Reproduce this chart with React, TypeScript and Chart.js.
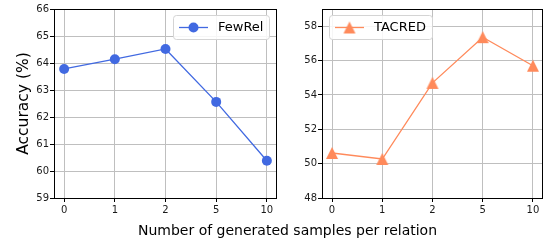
import React, { useEffect, useRef } from "react";
import { Chart, registerables } from "chart.js";

Chart.register(...registerables);

const xLabels = ["0", "1", "2", "5", "10"];
const fewrelAcc = [63.78, 64.14, 64.52, 62.56, 60.38];
const tacredAcc = [50.62, 50.27, 54.7, 57.36, 55.7];
const fewrelTicks = [59, 60, 61, 62, 63, 64, 65, 66];
const tacredTicks = [48, 50, 52, 54, 56, 58];

const BLUE = "#4169e1";
const ORANGE = "#ff8a5b";
const FONT = "'DejaVu Sans', sans-serif";

function makeTriangle(color: string) {
  const c = document.createElement("canvas");
  c.width = 14;
  c.height = 14;
  const g = c.getContext("2d")!;
  g.fillStyle = color;
  g.beginPath();
  g.moveTo(7, 1);
  g.lineTo(1, 13);
  g.lineTo(13, 13);
  g.closePath();
  g.fill();
  return c;
}

const framePlugin = {
  id: "frame",
  afterDatasetsDraw(chart: any) {
    const { ctx, chartArea: a } = chart;
    ctx.save();
    ctx.strokeStyle = "#000";
    ctx.lineWidth = 1;
    ctx.strokeRect(Math.round(a.left) + 0.5, Math.round(a.top) + 0.5, Math.round(a.right - a.left) - 1, Math.round(a.bottom - a.top));
    ctx.restore();
  },
};

const legendPlugin = {
  id: "boxLegend",
  afterDraw(chart: any, _args: any, opts: any) {
    const { ctx, chartArea: a } = chart;
    const ds = chart.data.datasets[0];
    ctx.save();
    ctx.font = `13px ${FONT}`;
    const tw = ctx.measureText(ds.label).width;
    const w = Math.round(6 + 29 + 10 + tw + 6);
    const h = 24;
    const x = opts.align === "right" ? Math.round(a.right - 8 - w) : Math.round(a.left + 7);
    const y = Math.round(a.top + 6);
    ctx.beginPath();
    (ctx as any).roundRect(x + 0.5, y + 0.5, w, h, 3);
    ctx.fillStyle = "rgba(255,255,255,0.85)";
    ctx.fill();
    ctx.strokeStyle = "#d4d4d4";
    ctx.lineWidth = 1;
    ctx.stroke();
    const cy = y + h / 2 + 0.5;
    ctx.strokeStyle = ds.borderColor;
    ctx.lineWidth = 1.3;
    ctx.beginPath();
    ctx.moveTo(x + 6, cy);
    ctx.lineTo(x + 35, cy);
    ctx.stroke();
    const mx = x + 20.5;
    if (opts.marker === "circle") {
      ctx.fillStyle = ds.borderColor;
      ctx.beginPath();
      ctx.arc(mx, cy, 5, 0, Math.PI * 2);
      ctx.fill();
    } else {
      ctx.drawImage(ds.pointStyle, mx - 7, cy - 7);
    }
    ctx.fillStyle = "#000";
    ctx.textBaseline = "middle";
    ctx.fillText(ds.label, x + 45, cy);
    ctx.restore();
  },
};

function makeConfig(
  label: string,
  values: number[],
  color: string,
  pointStyle: any,
  yMin: number,
  yMax: number,
  yTicks: number[],
  yWidth: number,
  padRight: number,
  yTitle: string | null,
  legendAlign: string,
  marker: string
): any {
  return {
    type: "line",
    data: {
      datasets: [
        {
          label,
          data: values.map((v, i) => ({ x: i, y: v })),
          borderColor: color,
          backgroundColor: color,
          borderWidth: 1.3,
          pointStyle,
          pointRadius: 5,
          pointBorderWidth: 0,
          pointBackgroundColor: color,
          tension: 0,
        },
      ],
    },
    options: {
      responsive: false,
      animation: false,
      devicePixelRatio: 1,
      layout: { padding: { left: 0, right: padRight, top: 9, bottom: 0 } },
      plugins: {
        legend: { display: false },
        tooltip: { enabled: false },
        boxLegend: { align: legendAlign, marker },
      },
      scales: {
        x: {
          type: "linear",
          min: -0.2,
          max: 4.2,
          afterBuildTicks: (s: any) => {
            s.ticks = xLabels.map((_, i) => ({ value: i }));
          },
          afterFit: (s: any) => {
            s.height = 48;
          },
          ticks: {
            callback: (v: number) => xLabels[v],
            font: { family: FONT, size: 10 },
            color: "#1a1a1a",
            padding: 2,
            maxRotation: 0,
            autoSkip: false,
          },
          grid: { color: "#bfbfbf", lineWidth: 1, tickColor: "#000", tickLength: 4, tickWidth: 1 },
          border: { display: false },
        },
        y: {
          type: "linear",
          min: yMin,
          max: yMax,
          afterBuildTicks: (s: any) => {
            s.ticks = yTicks.map((v) => ({ value: v }));
          },
          afterFit: (s: any) => {
            s.width = yWidth;
          },
          ticks: {
            font: { family: FONT, size: 10 },
            color: "#1a1a1a",
            padding: 1,
          },
          grid: { color: "#bfbfbf", lineWidth: 1, tickColor: "#000", tickLength: 4, tickWidth: 1 },
          border: { display: false },
          title: yTitle
            ? {
                display: true,
                text: yTitle,
                font: { family: FONT, size: 15.5 },
                color: "#000",
                padding: { top: 15, bottom: 0 },
              }
            : { display: false },
        },
      },
    },
    plugins: [framePlugin, legendPlugin],
  };
}

export default function App() {
  const leftRef = useRef<HTMLCanvasElement>(null);
  const rightRef = useRef<HTMLCanvasElement>(null);

  useEffect(() => {
    const c1 = new Chart(
      leftRef.current!,
      makeConfig("FewRel", fewrelAcc, BLUE, "circle", 59, 66, fewrelTicks, 54, 3, "Accuracy (%)", "right", "circle")
    );
    const c2 = new Chart(
      rightRef.current!,
      makeConfig("TACRED", tacredAcc, ORANGE, makeTriangle(ORANGE), 48, 59, tacredTicks, 40, 2, null, "left", "triangle")
    );
    return () => {
      c1.destroy();
      c2.destroy();
    };
  }, []);

  return (
    <div style={{ position: "fixed", left: 0, top: 0, width: 548, height: 246, background: "#fff" }}>
      <canvas ref={leftRef} width={282} height={246} style={{ position: "absolute", left: 0, top: 0, width: 282, height: 246 }} />
      <canvas ref={rightRef} width={266} height={246} style={{ position: "absolute", left: 282, top: 0, width: 266, height: 246 }} />
      <div
        style={{
          position: "absolute",
          left: 0,
          width: 575,
          top: 222,
          textAlign: "center",
          fontFamily: FONT,
          fontSize: 14,
          lineHeight: "16px",
          color: "#000",
          whiteSpace: "nowrap",
        }}
      >
        Number of generated samples per relation
      </div>
    </div>
  );
}
